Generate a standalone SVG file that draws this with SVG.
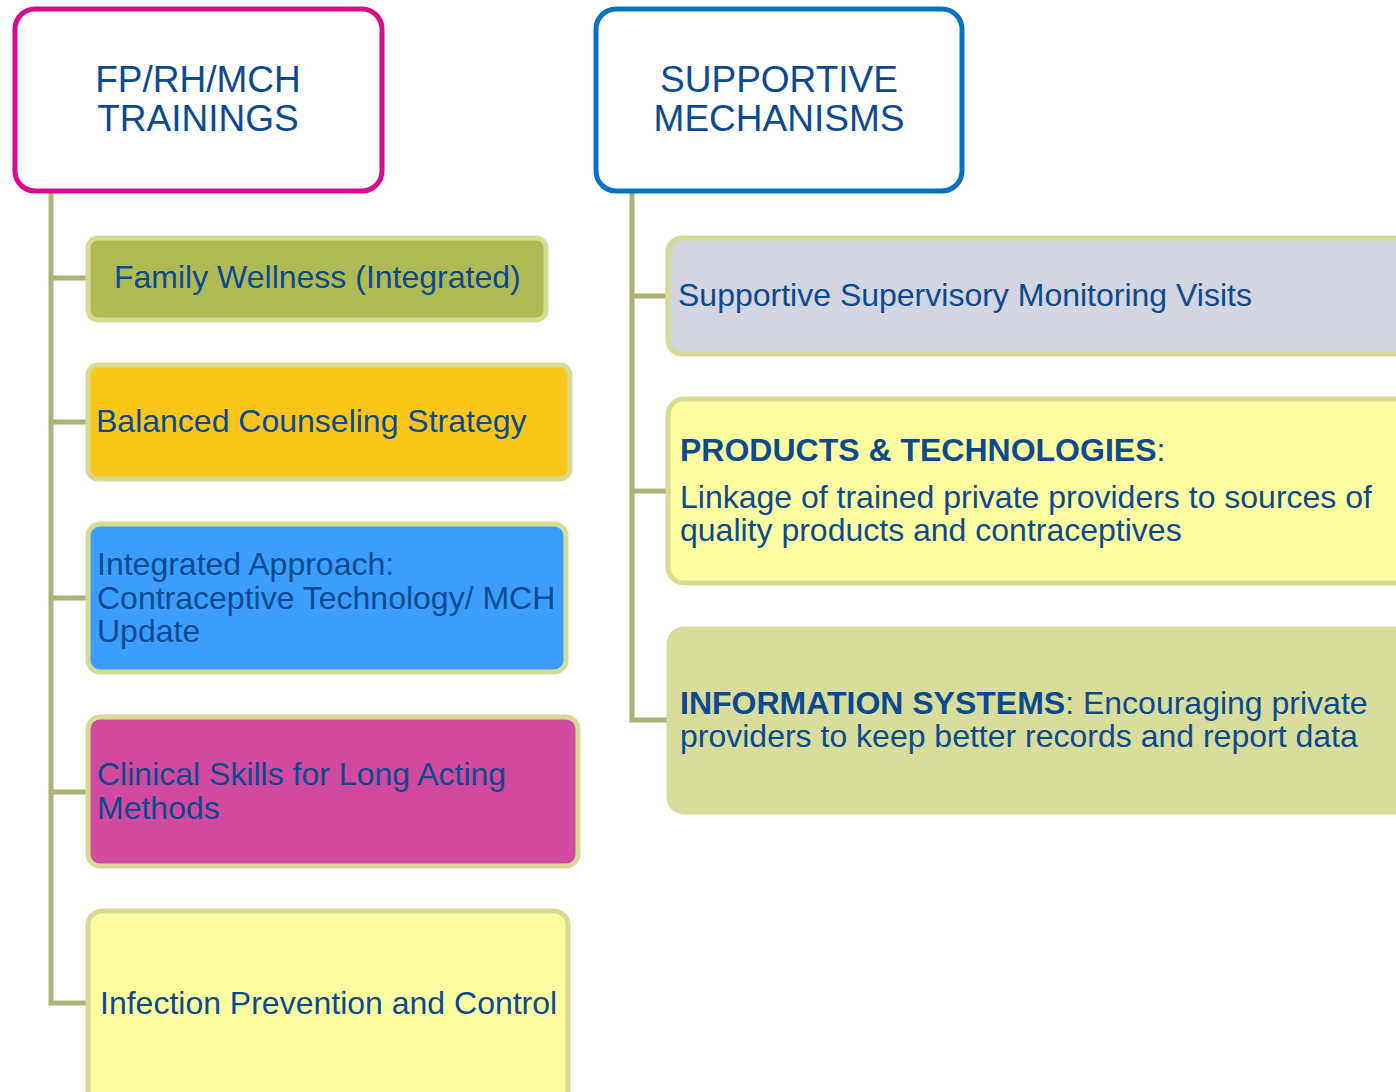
<svg xmlns="http://www.w3.org/2000/svg" width="1396" height="1092" viewBox="0 0 1396 1092">
<style>
text{font-family:"Liberation Sans",Arial,sans-serif;fill:#0B4A8F}
.hdr{font-size:37px;text-anchor:middle}
.t{font-size:32px}
.b{font-weight:bold}
.box{stroke:#D6DB94;stroke-width:5}
.conn{stroke:#AEB178;stroke-width:5;fill:none}
</style>
<g id="connectors">
<path class="conn" d="M51,192 V1003 H88"/>
<path class="conn" d="M51,278 H88"/>
<path class="conn" d="M51,422 H88"/>
<path class="conn" d="M51,598 H88"/>
<path class="conn" d="M51,792 H88"/>
<path class="conn" d="M632,192 V720 H668"/>
<path class="conn" d="M632,296 H668"/>
<path class="conn" d="M632,491 H668"/>
</g>
<g id="n-fprh">
<rect x="15" y="9" width="367" height="182" rx="20" fill="#fff" stroke="#D90B8C" stroke-width="5"/>
<text class="hdr" x="198" y="92">FP/RH/MCH</text>
<text class="hdr" x="198" y="131">TRAININGS</text>
</g>
<g id="n-supp">
<rect x="596" y="9" width="366" height="182" rx="20" fill="#fff" stroke="#0672C4" stroke-width="5"/>
<text class="hdr" x="779" y="92">SUPPORTIVE</text>
<text class="hdr" x="779" y="131">MECHANISMS</text>
</g>
<g id="n-family">
<rect class="box" x="88" y="238" width="458" height="82" rx="10" fill="#AFBA55"/>
<text class="t" x="114" y="288">Family Wellness (Integrated)</text>
</g>
<g id="n-balanced">
<rect class="box" x="88" y="365" width="482" height="114" rx="10" fill="#FCC51A"/>
<text class="t" x="96" y="432">Balanced Counseling Strategy</text>
</g>
<g id="n-integrated">
<rect class="box" x="88" y="524" width="478" height="148" rx="12" fill="#3B9EFF"/>
<text class="t" x="97" y="575">Integrated Approach:</text>
<text class="t" x="97" y="609">Contraceptive Technology/ MCH</text>
<text class="t" x="97" y="642">Update</text>
</g>
<g id="n-clinical">
<rect class="box" x="88" y="717" width="490" height="149" rx="12" fill="#D14AA0"/>
<text class="t" x="97" y="785">Clinical Skills for Long Acting</text>
<text class="t" x="97" y="819">Methods</text>
</g>
<g id="n-infection">
<rect class="box" x="88" y="911" width="480" height="200" rx="14" fill="#FDFDA0"/>
<text class="t" x="100" y="1014">Infection Prevention and Control</text>
</g>
<g id="n-ssmv">
<rect class="box" x="668" y="238" width="750" height="116" rx="14" fill="#D3D5E1"/>
<text class="t" x="678" y="306">Supportive Supervisory Monitoring Visits</text>
</g>
<g id="n-products">
<rect class="box" x="668" y="399" width="750" height="184" rx="16" fill="#FEFDA2"/>
<text class="t" x="680" y="461"><tspan class="b">PRODUCTS &amp; TECHNOLOGIES</tspan>:</text>
<text class="t" x="680" y="508">Linkage of trained private providers to sources of</text>
<text class="t" x="680" y="541">quality products and contraceptives</text>
</g>
<g id="n-info">
<rect x="668" y="628" width="750" height="185" rx="16" fill="#D8DD9C" stroke="#D5DB98" stroke-width="3"/>
<text class="t" x="680" y="714"><tspan class="b">INFORMATION SYSTEMS</tspan>: Encouraging private</text>
<text class="t" x="680" y="747">providers to keep better records and report data</text>
</g>
</svg>
